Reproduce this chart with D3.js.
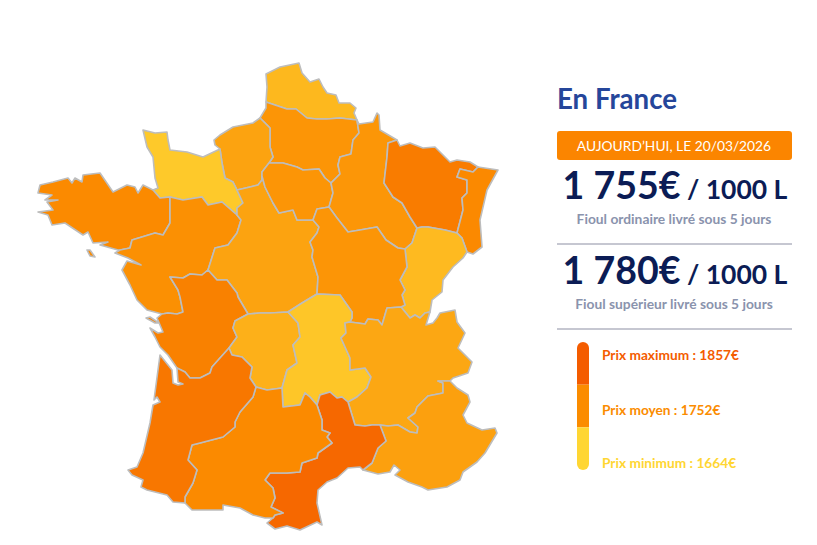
<!DOCTYPE html>
<html>
<head>
  <meta charset="utf-8">
  <title>Prix du fioul en France</title>
  <script src="https://d3js.org/d3.v7.min.js"></script>
  <style>
    html, body { margin: 0; background: #fff; overflow: hidden; }
    text { font-family: Lato, sans-serif; }
  </style>
</head>
<body>
<script>
// shared borders between regions (map units)
var nordCoast = [[266,102],[267,87],[266,74],[280,67],[299,63],[302,73],[310,82],[319,79],[323,87],[327,93],[336,95],[339,103],[350,103],[356,108],[354,113],[357,120]];
var nordPic = [[357,120],[340,118],[327,119],[317,119],[307,118],[296,109],[287,109],[275,105],[266,102]];
var picCoast = [[266,102],[266,108],[260,118]];
var picHn = [[260,118],[270,128],[270,147],[273,157],[269,163]];
var picIdf = [[269,163],[283,163],[297,167],[303,170],[319,169],[325,178],[331,183]];
var picCham = [[331,183],[340,174],[338,165],[340,157],[351,154],[353,140],[359,133],[357,120]];
var hnCoast = [[260,118],[253,123],[233,127],[220,135],[214,140],[215,145],[220,149]];
var hnBn = [[220,149],[222,163],[225,178],[233,182],[237,190]];
var hnCentre = [[237,190],[250,187],[258,185],[262,180],[262,176]];
var hnIdf = [[262,176],[262,172],[269,163]];
var idfCentre = [[262,176],[265,187],[273,203],[279,213],[293,210],[297,220],[313,220]];
var idfBourg = [[313,220],[317,209],[329,207]];
var idfCham = [[329,207],[333,193],[331,183]];
var bnCoast = [[220,149],[203,157],[187,152],[170,150],[168,140],[167,132],[155,133],[143,130],[147,147],[153,157],[155,178],[158,188],[153,190]];
var bnBret = [[153,190],[160,198],[170,197]];
var bnPays = [[170,197],[183,200],[202,197],[208,205],[222,202],[237,215]];
var bnCentre = [[237,190],[243,203],[237,208],[237,215]];
var bretCoast = [[153,190],[143,185],[138,193],[135,187],[127,185],[113,192],[100,173],[83,175],[82,182],[75,178],[72,183],[68,178],[53,182],[40,185],[38,193],[52,195],[45,200],[58,200],[47,202],[53,210],[38,212],[48,215],[52,225],[65,223],[83,235],[88,232],[93,243],[108,242],[100,245],[118,250],[120,250]];
var bretPays = [[120,250],[130,248],[132,240],[155,233],[163,235],[170,223],[170,197]];
var paysCoast = [[120,250],[115,253],[128,258],[141,265],[127,261],[122,270],[130,285],[137,300],[147,310],[162,314]];
var paysPoitou = [[162,314],[168,313],[177,314],[183,312],[180,297],[178,290],[170,277],[183,278],[190,274],[202,275],[208,270]];
var paysCentre = [[237,215],[241,220],[237,233],[228,245],[215,248],[208,270]];
var centreBourg = [[313,220],[319,227],[317,233],[310,242],[313,250],[312,257],[318,277],[317,294]];
var centreAuv = [[317,294],[302,303],[288,312]];
var centreLim = [[288,312],[270,313],[260,313],[248,314]];
var centrePoitou = [[248,314],[238,297],[237,293],[227,280],[217,280],[208,270]];
var poitouLim = [[248,314],[235,321],[233,328],[237,337],[229,348]];
var poitouAq = [[229,348],[220,358],[212,367],[210,373],[200,378],[190,378],[185,372],[177,368]];
var poitouCoast = [[177,368],[168,355],[160,347],[155,337],[150,328],[158,333],[163,332],[157,318],[162,314]];
var aqLim = [[229,348],[232,355],[242,357],[252,367],[250,378],[256,387]];
var aqMidi = [[256,387],[253,397],[240,412],[235,422],[235,427],[223,437],[200,443],[192,445],[188,460],[197,470],[193,483],[185,497],[185,503]];
var aqCoast = [[185,503],[173,502],[167,495],[147,490],[141,487],[143,480],[132,475],[128,470],[137,467],[143,453],[150,423],[153,405],[160,402],[157,397],[154,400],[158,370],[160,355],[172,370],[173,383],[178,385],[183,384],[178,382],[177,368]];
var limAuv = [[288,312],[298,323],[300,337],[293,345],[297,363],[287,370],[282,388]];
var limMidi = [[282,388],[267,390],[256,387]];
var auvBourg = [[317,294],[340,295],[352,312],[352,318],[350,322]];
var auvRa = [[350,322],[345,323],[346,333],[341,338],[350,358],[350,370],[365,368],[371,377],[367,388],[357,397],[348,402]];
var auvLang = [[348,402],[342,397],[337,398],[330,392],[320,395],[317,405]];
var auvMidi = [[317,405],[310,397],[305,393],[300,405],[283,407],[282,388]];
var langMidi = [[317,405],[322,420],[322,430],[330,433],[327,437],[332,443],[318,453],[317,458],[302,463],[300,472],[287,473],[270,473],[265,480],[273,488],[275,498],[271,507],[283,513],[275,515],[273,518]];
var midiSouth = [[273,518],[265,518],[253,515],[240,508],[223,505],[223,510],[210,510],[192,510],[185,503]];
var langRa = [[348,402],[355,425],[365,426],[372,425],[380,425]];
var langPaca = [[380,425],[386,441],[378,448],[372,463],[363,470]];
var langCoast = [[363,470],[360,467],[348,468],[337,478],[327,482],[318,490],[317,503],[322,525],[317,522],[300,530],[287,526],[275,529],[267,523],[273,518]];
var raPaca = [[380,425],[388,426],[398,425],[410,432],[417,433],[418,427],[408,418],[415,413],[417,407],[428,396],[443,393],[443,383],[438,381],[450,381]];
var pacaCoast = [[450,381],[457,388],[468,395],[470,402],[463,415],[467,423],[482,430],[495,428],[497,433],[485,453],[477,462],[463,472],[460,480],[447,487],[428,490],[422,487],[408,482],[395,475],[400,470],[394,465],[390,472],[378,474],[363,470]];
var bourgRa = [[350,322],[365,324],[368,319],[378,320],[382,325],[387,308],[401,307]];
var raFc = [[401,307],[410,318],[415,315],[420,318],[425,313],[430,312]];
var raSwiss = [[430,312],[426,325],[433,323],[437,318],[440,313],[455,310],[457,322],[465,333],[458,348],[472,362],[468,373],[453,378],[450,381]];
var bourgCham = [[329,207],[337,218],[348,232],[360,230],[377,227],[386,240],[398,248],[405,249]];
var bourgFc = [[405,249],[407,267],[400,280],[405,290],[402,295],[405,305],[401,307]];
var chamCoast = [[357,120],[359,124],[373,122],[377,113],[379,115],[380,130],[397,140]];
var chamLor = [[397,140],[388,143],[387,157],[384,183],[393,197],[402,203],[410,217],[417,228]];
var chamFc = [[417,228],[412,243],[405,249]];
var lorNorth = [[397,140],[400,146],[410,143],[423,148],[435,147],[450,162],[457,160],[470,162],[478,167]];
var lorAls = [[478,167],[473,172],[460,169],[457,177],[467,180],[467,193],[462,198],[463,210],[457,233]];
var lorFc = [[457,233],[445,230],[428,227],[422,227],[417,228]];
var alsCoast = [[478,167],[498,170],[487,190],[480,220],[482,247],[473,254],[467,252]];
var alsFc = [[467,252],[462,238],[457,233]];
var fcSwiss = [[467,252],[463,258],[453,267],[443,280],[442,292],[432,300],[430,312]];
var belleIle = [[87,250],[90,250],[95,257],[90,256],[87,250]];
var ileRe = [[146,318],[150,317],[159,323],[155,323],[146,318]];

function r(arc) { return arc.slice().reverse(); }

var regionNames = ['Nord-Pas-de-Calais','Picardie','Haute-Normandie','Basse-Normandie','Bretagne','Pays de la Loire','Centre','Ile-de-France','Champagne-Ardenne','Lorraine','Alsace','Franche-Comte','Bourgogne','Poitou-Charentes','Limousin','Auvergne','Rhone-Alpes','PACA','Languedoc-Roussillon','Midi-Pyrenees','Aquitaine'];
var regionPrices = [1700,1741,1725,1679,1757,1747,1725,1741,1740,1787,1758,1697,1741,1775,1709,1683,1720,1728,1831,1757,1799];
var regionRings = [
  [nordCoast, nordPic],
  [nordPic, picCoast, picHn, picIdf, picCham],
  [hnCoast, hnBn, hnCentre, hnIdf, r(picHn)],
  [bnCoast, bnBret, bnPays, r(bnCentre), r(hnBn)],
  [bretCoast, bretPays, r(bnBret)],
  [paysCoast, paysPoitou, r(paysCentre), r(bnPays), r(bretPays)],
  [hnCentre, idfCentre, centreBourg, centreAuv, centreLim, centrePoitou, r(paysCentre), r(bnCentre)],
  [picIdf, r(idfCham), r(idfBourg), r(idfCentre), hnIdf],
  [chamCoast, chamLor, chamFc, r(bourgCham), idfCham, picCham],
  [lorNorth, lorAls, lorFc, r(chamLor)],
  [alsCoast, alsFc, r(lorAls)],
  [r(lorFc), r(alsFc), fcSwiss, r(raFc), r(bourgFc), r(chamFc)],
  [idfBourg, bourgCham, bourgFc, r(bourgRa), r(auvBourg), r(centreBourg)],
  [paysPoitou, r(centrePoitou), poitouLim, poitouAq, poitouCoast],
  [r(centreLim), limAuv, limMidi, r(aqLim), r(poitouLim)],
  [r(centreAuv), auvBourg, auvRa, auvLang, auvMidi, r(limAuv)],
  [bourgRa, raFc, raSwiss, r(raPaca), r(langRa), r(auvRa)],
  [raPaca, pacaCoast, r(langPaca)],
  [r(auvLang), langRa, langPaca, langCoast, r(langMidi)],
  [r(limMidi), r(auvMidi), langMidi, midiSouth, r(aqMidi)],
  [aqLim, aqMidi, aqCoast, r(poitouAq)]
];
var regionIslands = { 'Bretagne': belleIle, 'Poitou-Charentes': ileRe };

var legendLabels = ['Prix maximum : ', 'Prix moyen : ', 'Prix minimum : '];
var legendValues = [1857, 1752, 1664];
var legendColors = ['#f45c00', '#fb8c00', '#ffd633'];

var offerPrices = ['1 755€', '1 780€'];
var offerLabels = ['Fioul ordinaire livré sous 5 jours', 'Fioul supérieur livré sous 5 jours'];

var width = 817;
var height = 545;

var svg = d3.select('body').append('svg')
  .attr('width', width)
  .attr('height', height)
  .style('display', 'block');

var color = d3.scaleLinear()
  .domain(legendValues)
  .range(legendColors);

var features = regionRings.map(function(arcs, i) {
  var ring = [];
  arcs.forEach(function(a) { ring = ring.concat(ring.length ? a.slice(1) : a); });
  var polys = [[ring]];
  if (regionIslands[regionNames[i]]) polys.push([regionIslands[regionNames[i]]]);
  return {
    type: 'Feature',
    properties: { name: regionNames[i], price: regionPrices[i] },
    geometry: { type: 'MultiPolygon', coordinates: polys }
  };
});

var path = d3.geoPath(d3.geoIdentity());

svg.append('g').selectAll('path')
  .data(features)
  .enter()
  .append('path')
  .attr('d', path)
  .attr('fill', function(d) { return color(d.properties.price); })
  .attr('stroke', '#bdbdbd')
  .attr('stroke-width', 1.6)
  .attr('stroke-linejoin', 'round');

// right panel
var panel = svg.append('g');
var panelX = d3.scaleLinear().domain([0, 1]).range([557, 792]);
var midX = panelX(0.5);

panel.append('text')
  .attr('x', panelX(0))
  .attr('y', 109)
  .attr('font-size', 29)
  .attr('font-weight', 700)
  .attr('fill', '#25469a')
  .attr('textLength', 120)
  .attr('lengthAdjust', 'spacingAndGlyphs')
  .text('En France');

panel.append('rect')
  .attr('x', panelX(0))
  .attr('y', 131)
  .attr('width', panelX(1) - panelX(0))
  .attr('height', 29)
  .attr('rx', 3)
  .attr('fill', '#fb8500');

panel.append('text')
  .attr('x', midX - 0.5)
  .attr('y', 151)
  .attr('text-anchor', 'middle')
  .attr('font-size', 13.8)
  .attr('fill', '#fff')
  .text('AUJOURD’HUI, LE 20/03/2026');

var offerY = d3.scaleOrdinal().domain(offerPrices).range([199, 284]);

offerPrices.forEach(function(price, i) {
  var y = offerY(price);
  var t = panel.append('text')
    .attr('x', midX + 0.5)
    .attr('y', y)
    .attr('text-anchor', 'middle')
    .attr('font-weight', 700)
    .attr('fill', '#0b1c55');
  t.append('tspan').attr('font-size', 37.5).text(price);
  t.append('tspan').attr('font-size', 26.5).text(' / 1000 L');

  panel.append('text')
    .attr('x', midX - 0.5)
    .attr('y', y + 25)
    .attr('text-anchor', 'middle')
    .attr('font-size', 13.8)
    .attr('font-weight', 700)
    .attr('fill', '#8a93ad')
    .text(offerLabels[i]);

  panel.append('line')
    .attr('x1', panelX(0))
    .attr('x2', panelX(1))
    .attr('y1', y + 45)
    .attr('y2', y + 45)
    .attr('stroke', '#8c8fa3')
    .attr('stroke-width', 1);
});

// price legend
svg.append('clipPath').attr('id', 'bar')
  .append('rect')
  .attr('x', 577)
  .attr('y', 342)
  .attr('width', 12)
  .attr('height', 128)
  .attr('rx', 6);

var legendY = d3.scaleBand().domain(legendLabels).range([342, 470]);

panel.append('g').attr('clip-path', 'url(#bar)')
  .selectAll('rect')
  .data(legendLabels)
  .enter()
  .append('rect')
  .attr('x', 577)
  .attr('y', function(d) { return legendY(d); })
  .attr('width', 12)
  .attr('height', legendY.bandwidth())
  .attr('fill', function(d, i) { return legendColors[i]; });

var labelY = d3.scaleOrdinal().domain(legendLabels).range([360, 415, 468]);

panel.selectAll('text.legend')
  .data(legendLabels)
  .enter()
  .append('text')
  .attr('class', 'legend')
  .attr('x', 602)
  .attr('y', function(d) { return labelY(d); })
  .attr('font-size', 13.7)
  .attr('font-weight', 700)
  .attr('fill', function(d, i) { return legendColors[i]; })
  .text(function(d, i) { return d + legendValues[i] + '€'; });
</script>
</body>
</html>
